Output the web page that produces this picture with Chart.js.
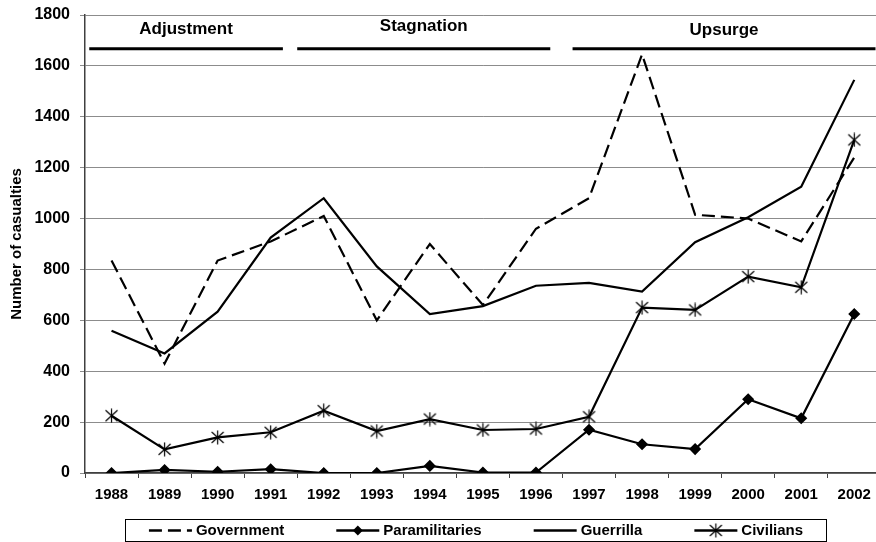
<!DOCTYPE html>
<html>
<head>
<meta charset="utf-8">
<script src="https://cdn.jsdelivr.net/npm/chart.js@4.4.0/dist/chart.umd.min.js"></script>
<style>
  html, body { margin: 0; padding: 0; background: #fff; overflow: hidden; }
  #chart { display: block; }
</style>
</head>
<body>
<canvas id="chart" width="890" height="542"></canvas>
<script>
/* data */
const years = ['1988', '1989', '1990', '1991', '1992', '1993', '1994', '1995', '1996', '1997', '1998', '1999', '2000', '2001', '2002']
const government = [835, 430, 835, 910, 1010, 600, 900, 660, 960, 1080, 1645, 1015, 1000, 910, 1240]
const paramilitaries = [0, 12, 5, 15, 0, 0, 28, 2, 2, 170, 113, 94, 290, 215, 625]
const guerrilla = [559, 470, 634, 925, 1080, 812, 625, 656, 736, 747, 713, 907, 1005, 1125, 1545]
const civilians = [225, 93, 140, 160, 245, 165, 212, 169, 173, 221, 650, 641, 772, 730, 1309]
const seriesNames = ['Government', 'Paramilitaries', 'Guerrilla', 'Civilians']
const phaseNames = ['Adjustment', 'Stagnation', 'Upsurge']
const phaseFrom = ['1988', '1992', '1997']
const phaseTo = ['1991', '1996', '2002']

const FONT = 'Liberation Sans, Arial, sans-serif'

/* asterisk marker, X plus a vertical stroke */
const star = document.createElement('canvas')
star.width = 15
star.height = 15
const sc = star.getContext('2d')
sc.strokeStyle = '#000'
sc.lineWidth = 1.2
sc.beginPath()
sc.moveTo(1.5, 2); sc.lineTo(13.5, 13)
sc.moveTo(13.5, 2); sc.lineTo(1.5, 13)
sc.moveTo(7.5, 0.5); sc.lineTo(7.5, 14.5)
sc.stroke()

/* phase labels and bars on top of the plot */
const phasePlugin = {
  id: 'phases',
  afterDraw(chart) {
    const { ctx, scales: { x, y } } = chart
    const step = x.getPixelForValue(1) - x.getPixelForValue(0)
    const lineY = y.getPixelForValue(1667)
    const starts = [-0.42, -0.5, -0.31]
    const ends = [0.23, 0.27, 0.4]
    const lift = [0, 3, -1]
    ctx.save()
    phaseNames.forEach((name, i) => {
      const a = x.getPixelForValue(years.indexOf(phaseFrom[i])) + starts[i] * step
      const b = x.getPixelForValue(years.indexOf(phaseTo[i])) + ends[i] * step
      ctx.strokeStyle = '#000'
      ctx.lineWidth = 3
      ctx.beginPath()
      ctx.moveTo(a, lineY)
      ctx.lineTo(b, lineY)
      ctx.stroke()
      ctx.fillStyle = '#000'
      ctx.font = 'bold 17px ' + FONT
      ctx.textAlign = 'center'
      ctx.textBaseline = 'middle'
      ctx.fillText(name, (a + b) / 2, y.getPixelForValue(1742) - lift[i])
    })
    ctx.restore()
  }
}

/* boxed legend at the bottom */
const legendPlugin = {
  id: 'boxLegend',
  afterDraw(chart) {
    const { ctx } = chart
    const top = 519, h = 22, left = 125.5, right = 826.5
    const mid = top + h / 2 + 0.5
    ctx.save()
    ctx.strokeStyle = '#000'
    ctx.lineWidth = 1
    ctx.strokeRect(left, top + 0.5, right - left, h)
    ctx.font = 'bold 15px ' + FONT
    ctx.textBaseline = 'middle'
    const sample = 43, gap = 4, between = 52
    const widths = seriesNames.map(n => ctx.measureText(n).width)
    const total = widths.reduce((s, w) => s + sample + gap + w, 0) + between * (seriesNames.length - 1)
    let cx = (left + right) / 2 - total / 2
    chart.data.datasets.forEach((ds, i) => {
      ctx.strokeStyle = '#000'
      ctx.lineWidth = 2.5
      ctx.setLineDash(ds.borderDash || [])
      ctx.beginPath()
      ctx.moveTo(cx, mid)
      ctx.lineTo(cx + sample, mid)
      ctx.stroke()
      ctx.setLineDash([])
      const m = cx + sample / 2
      if (ds.pointStyle === 'rectRot') {
        ctx.fillStyle = '#000'
        ctx.beginPath()
        ctx.moveTo(m, mid - 5); ctx.lineTo(m + 5, mid); ctx.lineTo(m, mid + 5); ctx.lineTo(m - 5, mid)
        ctx.closePath()
        ctx.fill()
      } else if (ds.pointStyle === star) {
        ctx.drawImage(star, m - 7.5, mid - 7.5)
      }
      ctx.fillStyle = '#000'
      ctx.textAlign = 'left'
      ctx.fillText(ds.label, cx + sample + gap, mid)
      cx += sample + gap + widths[i] + between
    })
    ctx.restore()
  }
}

new Chart(document.querySelector('#chart'), {
  type: 'line',
  data: {
    labels: years,
    datasets: [
      { label: seriesNames[0], data: government, borderColor: '#000', borderWidth: 2.2, borderDash: [13, 6], pointRadius: 0, tension: 0 },
      { label: seriesNames[1], data: paramilitaries, borderColor: '#000', borderWidth: 2.2, pointStyle: 'rectRot', pointRadius: 4.5, pointBackgroundColor: '#000', pointBorderColor: '#000', tension: 0 },
      { label: seriesNames[2], data: guerrilla, borderColor: '#000', borderWidth: 2.2, pointRadius: 0, tension: 0 },
      { label: seriesNames[3], data: civilians, borderColor: '#000', borderWidth: 2.2, pointStyle: star, pointRadius: 7, tension: 0 }
    ]
  },
  options: {
    responsive: false,
    animation: false,
    devicePixelRatio: 1,
    layout: { padding: { left: 0, right: 0, top: 15, bottom: 0 } },
    plugins: { legend: { display: false }, tooltip: { enabled: false } },
    scales: {
      x: {
        offset: true,
        grid: { offset: true, drawOnChartArea: false, tickLength: 5, color: '#404040' },
        border: { color: '#404040', width: 1.5 },
        ticks: { color: '#000', font: { family: FONT, size: 15, weight: 'bold' }, padding: 8, maxRotation: 0, autoSkip: false },
        afterFit: s => { s.height = 69; s.paddingLeft = 0; s.paddingRight = 0 }
      },
      y: {
        min: 0,
        max: 1800,
        ticks: { stepSize: 200, color: '#000', font: { family: FONT, size: 16, weight: 'bold' }, padding: 10, callback: v => String(v) },
        grid: { color: '#8c8c8c', tickLength: 5 },
        border: { color: '#404040', width: 1.5 },
        title: { display: true, text: 'Number of casualties', color: '#000', font: { family: FONT, size: 15, weight: 'bold' }, padding: { top: 8, bottom: 0 } },
        afterFit: s => { s.width = 85; s.paddingTop = 0; s.paddingBottom = 0 }
      }
    }
  },
  plugins: [phasePlugin, legendPlugin]
})
</script>
</body>
</html>
